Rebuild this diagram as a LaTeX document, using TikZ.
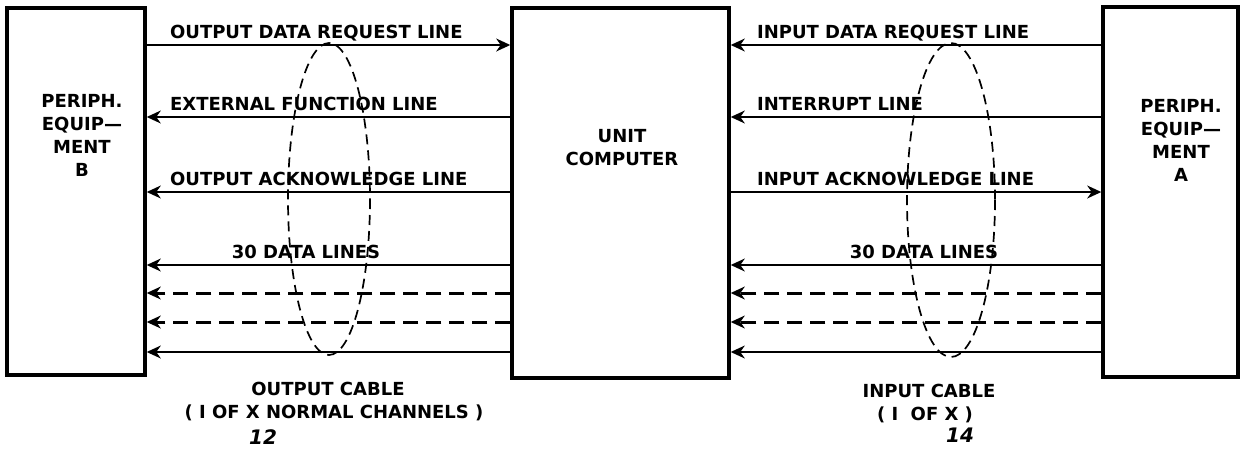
\documentclass[tikz,border=0pt]{standalone}
\usepackage{fontspec}
\newfontfamily\lettering{DejaVu Sans}
\usetikzlibrary{arrows.meta}

\begin{document}
\begin{tikzpicture}[x=0.5pt, y=-0.5pt,
    every node/.style={font=\lettering\bfseries\fontsize{9}{11.5}\selectfont, inner sep=0pt},
    unitbox/.style={draw, line width=1.7pt},
    sig/.style={line width=1.4pt},
    tip/.style={-{Stealth[length=7pt, width=6.4pt, inset=2.2pt]}},
    datadash/.style={dash pattern=on 7.5pt off 4pt, line width=1.5pt},
    cable/.style={line width=0.85pt, dash pattern=on 5pt off 3pt}]
    \useasboundingbox (0,0) rectangle (1241,450);
    % the three units
    \node[unitbox, minimum width=69pt, minimum height=183.5pt] (B) at (76,191.5) {};
    \node[unitbox, minimum width=108.5pt, minimum height=185pt] (U) at (620.5,193) {};
    \node[unitbox, minimum width=67.5pt, minimum height=185pt] (A) at (1170.5,192) {};
    \node[align=center] (Btxt) at (82,135) {PERIPH.\\EQUIP—\\MENT\\B};
    \node[align=center] (Utxt) at (622,148) {UNIT\\COMPUTER};
    \node[align=center] (Atxt) at (1181,140) {PERIPH.\\EQUIP—\\MENT\\A};
    % signal rows
    \foreach \r/\y in {r1/45, r2/117, r3/192, r4/265, r5/293, r6/322, r7/352}
      \coordinate (\r) at (0,\y);
    % output side
    \draw[sig, tip] (B.east |- r1) -- (U.west |- r1);
    \draw[sig, tip] (U.west |- r2) -- (B.east |- r2);
    \draw[sig, tip] (U.west |- r3) -- (B.east |- r3);
    \foreach \r/\s in {r4/solid, r5/datadash, r6/datadash, r7/solid}
      \draw[sig, tip, \s] (U.west |- \r) -- (B.east |- \r);
    % input side
    \draw[sig, tip] (A.west |- r1) -- (U.east |- r1);
    \draw[sig, tip] (A.west |- r2) -- (U.east |- r2);
    \draw[sig, tip] (U.east |- r3) -- (A.west |- r3);
    \foreach \r/\s in {r4/solid, r5/datadash, r6/datadash, r7/solid}
      \draw[sig, tip, \s] (A.west |- \r) -- (U.east |- \r);
    % line labels
    \foreach \r/\t in {r1/OUTPUT DATA REQUEST LINE, r2/EXTERNAL FUNCTION LINE, r3/OUTPUT ACKNOWLEDGE LINE}
      \node[anchor=base west, xshift=11.5pt, yshift=3.5pt] at (B.east |- \r) {\t};
    \foreach \r/\t in {r1/INPUT DATA REQUEST LINE, r2/INTERRUPT LINE, r3/INPUT ACKNOWLEDGE LINE}
      \node[anchor=base west, xshift=13pt, yshift=3.5pt] at (U.east |- \r) {\t};
    \node[anchor=base, yshift=3.5pt] (dout) at (306,265) {30 DATA LINES};
    \node[anchor=base, yshift=3.5pt] (din) at (924,265) {30 DATA LINES};
    % cables
    \draw[cable] (329,199) ellipse [x radius=41, y radius=156];
    \draw[cable] (951,200) ellipse [x radius=44, y radius=157];
    \node[anchor=base] (cout) at (328,395) {OUTPUT CABLE};
    \node[anchor=base] (cout2) at (334,418) {( I OF X NORMAL CHANNELS )};
    \node[anchor=base] (cin) at (929,397) {INPUT CABLE};
    \node[anchor=base] (cin2) at (925,420) {( I~~OF X )};
    \node[font=\lettering\bfseries\itshape\fontsize{10}{12}\selectfont] (n12) at (263,437) {12};
    \node[font=\lettering\bfseries\itshape\fontsize{10}{12}\selectfont] (n14) at (960,435) {14};
\end{tikzpicture}
\end{document}
